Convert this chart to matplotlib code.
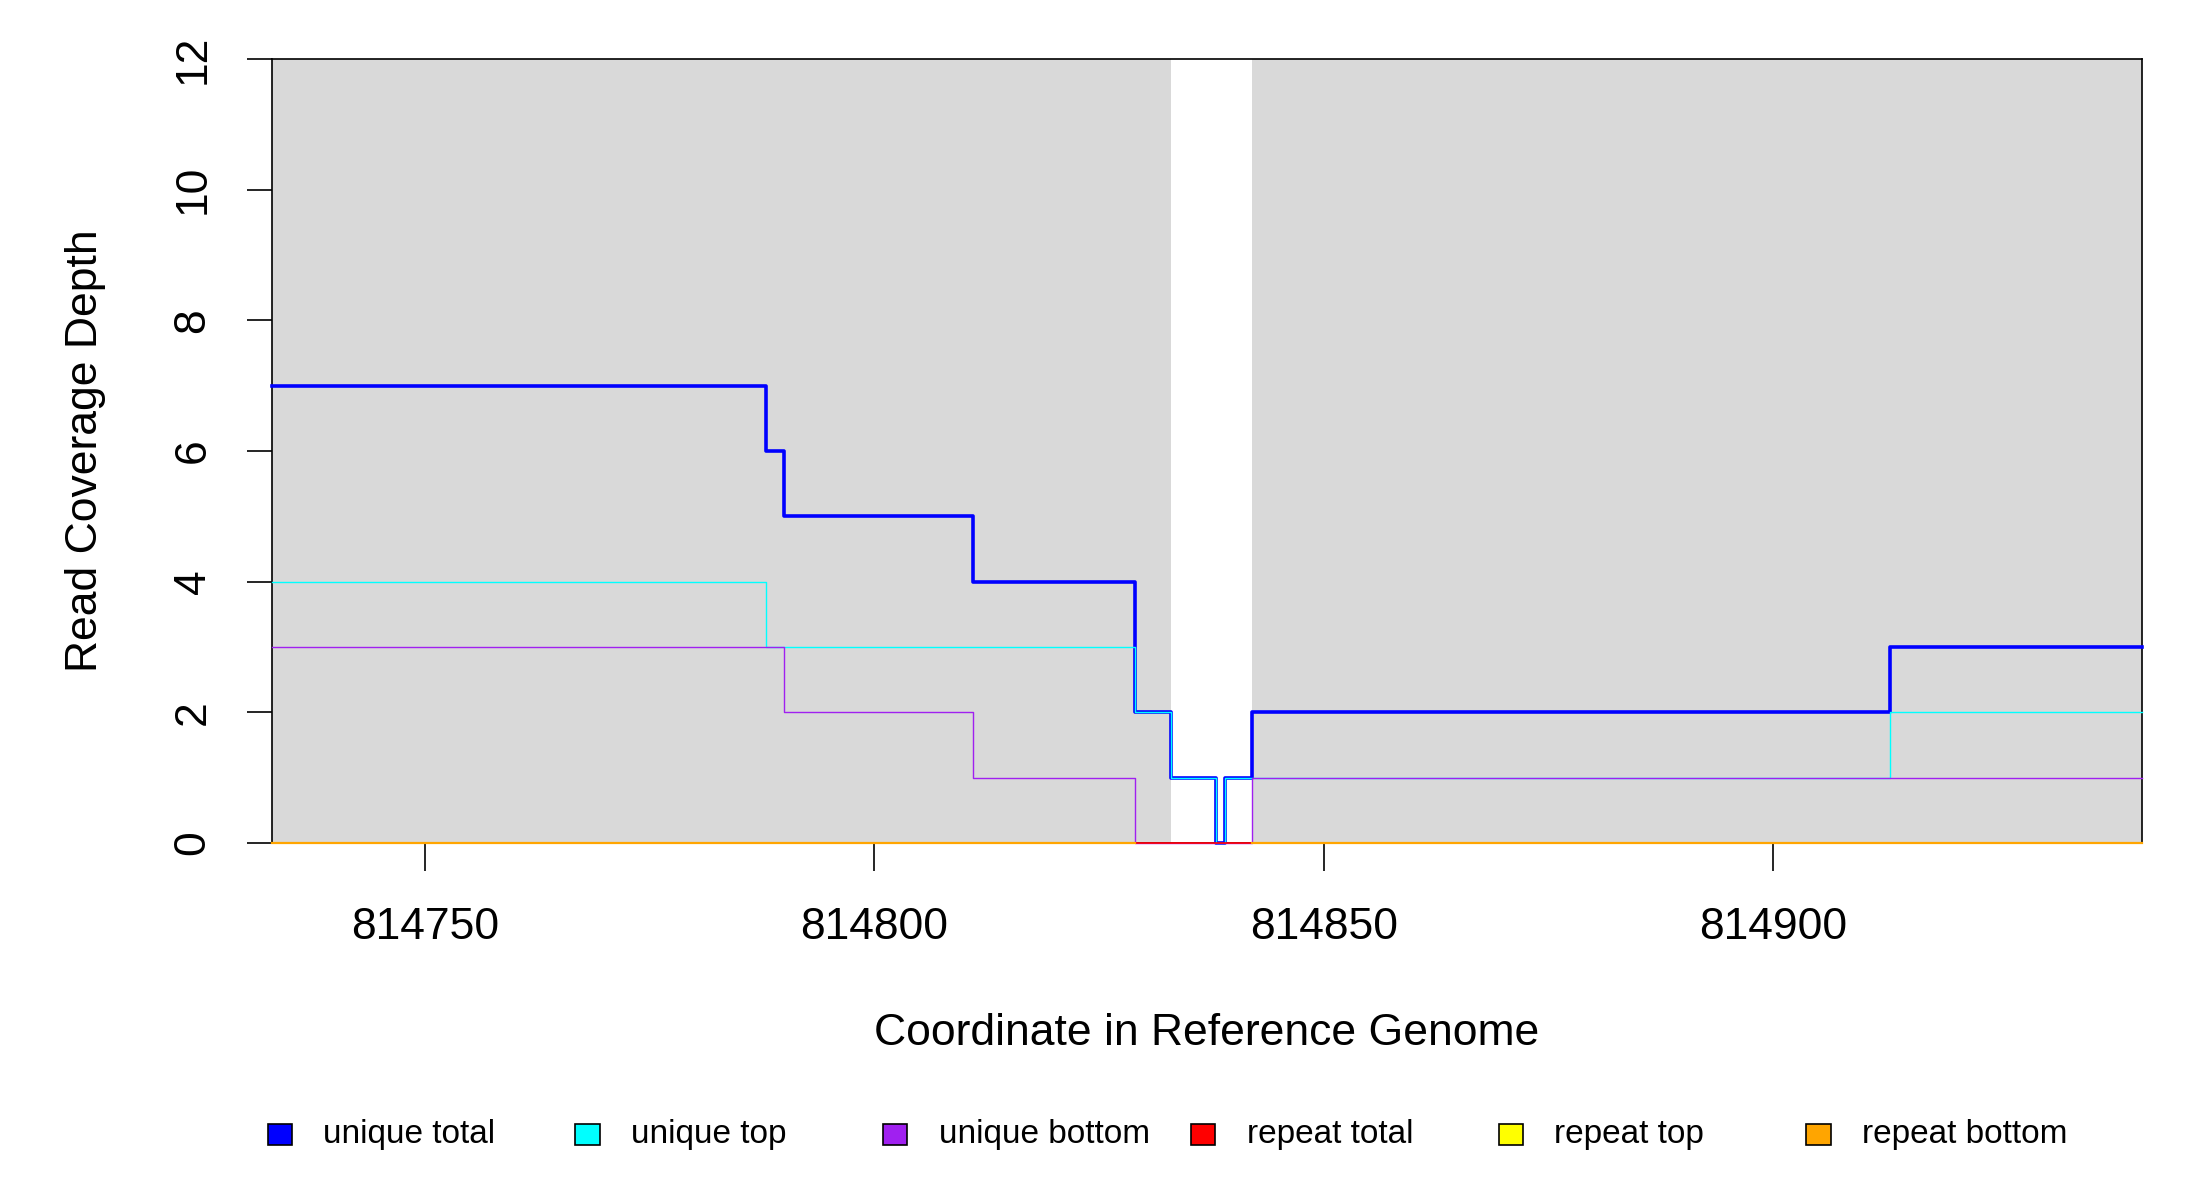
import numpy as np
import matplotlib
matplotlib.use("Agg")
import matplotlib.pyplot as plt
from matplotlib.patches import Rectangle

plt.rcParams['font.family'] = ['Liberation Sans', 'DejaVu Sans']

# step boundaries (genome coordinates) and the depth of each segment
edges = [814733, 814788, 814790, 814811, 814829, 814833, 814838, 814839, 814842, 814913, 814941]
unique_total = [7, 6, 5, 4, 2, 1, 0, 1, 2, 3]
unique_top = [4, 3, 3, 3, 2, 1, 0, 1, 1, 2]
unique_bottom = [3, 3, 2, 1, 0, 0, 0, 0, 1, 1]
repeat_total = [0, 0, 0, 0, 0, 0, 0, 0, 0, 0]
repeat_top = [0, 0, 0, 0, np.nan, np.nan, np.nan, np.nan, 0, 0]
repeat_bottom = [0, 0, 0, 0, np.nan, np.nan, np.nan, np.nan, 0, 0]

# shaded regions
regions = [(814733, 814833), (814842, 814941)]

xticks = [814750, 814800, 814850, 814900]
yticks = [0, 2, 4, 6, 8, 10, 12]

series = [
    ("unique total", unique_total, "#0000FF", 1.3),
    ("unique top", unique_top, "#00FFFF", 0.5),
    ("unique bottom", unique_bottom, "#A020F0", 0.5),
    ("repeat total", repeat_total, "#FF0000", 0.6),
    ("repeat top", repeat_top, "#FFFF00", 0.6),
    ("repeat bottom", repeat_bottom, "#FFA500", 0.8),
]

fig = plt.figure(figsize=(11, 6), dpi=200)
ax = fig.add_axes([0.1236, 0.2975, 0.8500, 0.6533])

for a, b in regions:
    ax.axvspan(a, b, color="#D9D9D9", lw=0, zorder=0)

for s in ax.spines.values():
    s.set_linewidth(0.6)
    s.set_zorder(1.5)

for name, vals, col, lw in series:
    y = list(vals) + [vals[-1]]
    ax.plot(edges, y, drawstyle="steps-post", color=col, lw=lw, zorder=2,
            clip_on=False)

ax.set_xlim(edges[0], edges[-1])
ax.set_ylim(0, 12)
ax.set_xticks(xticks)
ax.set_xticklabels([str(t) for t in xticks])
ax.set_yticks(yticks)
ax.set_yticklabels([str(t) for t in yticks], rotation=90, va="center")
ax.tick_params(axis="x", length=10, width=0.6, pad=13, labelsize=16)
ax.tick_params(axis="y", length=9, width=0.6, pad=12, labelsize=16)

ax.set_xlabel("Coordinate in Reference Genome", fontsize=16, labelpad=23.5)
ax.set_ylabel("Read Coverage Depth", fontsize=16, labelpad=24)

# legend row below the plot
for i, (name, vals, col, lw) in enumerate(series):
    x0 = 0.1271 + i * 0.1399
    fig.patches.append(Rectangle((x0 - 0.0055, 0.0455), 0.011, 0.0175,
                                 transform=fig.transFigure, facecolor=col,
                                 edgecolor="black", lw=0.6))
    fig.text(x0 + 0.0198, 0.0542, name, fontsize=12, va="center", ha="left")

fig.savefig("out.png", dpi=200)
